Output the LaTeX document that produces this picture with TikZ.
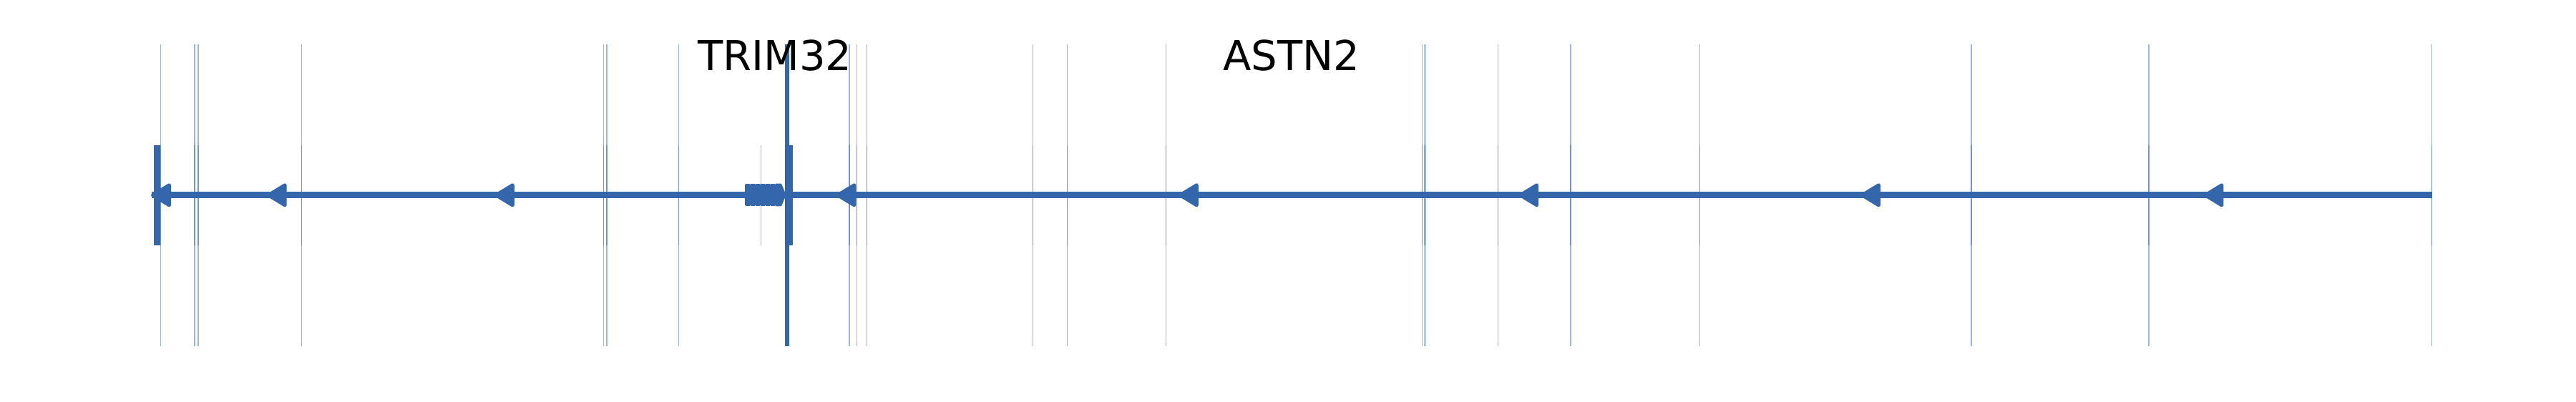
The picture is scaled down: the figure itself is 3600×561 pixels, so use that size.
\documentclass[tikz,border=0pt]{standalone}
\usepackage{fontspec}
\setmainfont{DejaVu Sans}
\definecolor{trackblue}{HTML}{3366AA}
\definecolor{varblue}{HTML}{4A78C2}
\tikzset{
  track/.style={trackblue, line width=2.25pt},
  varline/.style={varblue, opacity=0.55, line width=0.4pt},
  head/.style={fill=trackblue, draw=trackblue, line width=1.25pt, line join=round},
  exonbit/.style={fill=trackblue, draw=trackblue, line width=0.75pt, line join=round},
  genename/.style={font=\fontsize{14.4}{17}\selectfont, anchor=base, inner sep=0pt},
}

\begin{document}
\begin{tikzpicture}[x=0.25pt, y=-0.25pt]
  \useasboundingbox (0,0) rectangle (3600,561);

  \foreach \xp in {224.5,271.7,277,421.5,843.5,848,948.5,1186.7,1197.5,1211.3,1443.5,1491.3,1629.6,1987.3,1990.3,1992.3,2093.4,2195.1,2375.4,2755.2,3003,3398.4}{
    \draw[varline] (\xp,62) -- (\xp,484);
    \draw[varline] (\xp,203) -- (\xp,343);
  }
  \draw[varline] (1063.3,203) -- (1063.3,343);

  \coordinate (s) at (212,272.8);
  \coordinate (e) at (3398.5,272.8);
  \draw[track] (s) -- (e);

  \foreach \t in {211,372.7,690.8,1168.3,1646.8,2122.2,2600,3079.4}
    \filldraw[head] (\t+2.5,272.8) -- (\t+25.5,258.8) -- (\t+25.5,286.8) -- cycle;

  \foreach \k in {0,...,5}
    \filldraw[exonbit] ({1042.5+7*\k},258.2) rectangle ({1047.5+7*\k},286.8);
  \filldraw[exonbit] (1084.5,258.2) -- (1091,258.2) -- (1097,272.5) -- (1091,286.8) -- (1084.5,286.8) -- cycle;

  \draw[trackblue, line width=2.3pt] (219.7,202.7) -- (219.7,343.3);
  \draw[trackblue, line width=2.9pt] (1102.5,202.7) -- (1102.5,343.3);
  \draw[trackblue, line width=1.5pt] (1100,62) -- (1100,484);

  \node[genename] (trim) at (1083,98.4) {TRIM32};
  \node[genename] (astn) at (1805,98.4) {ASTN2};
\end{tikzpicture}
\end{document}
